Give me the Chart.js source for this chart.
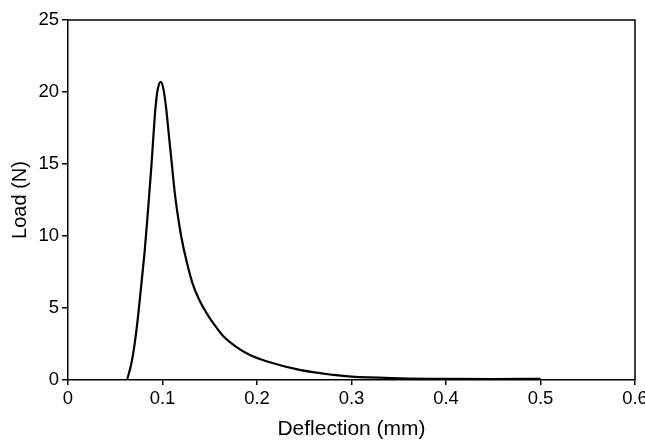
<!DOCTYPE html>
<html>
<head>
<meta charset="utf-8">
<script src="https://cdn.jsdelivr.net/npm/chart.js@4/dist/chart.umd.min.js"></script>
<style>
  html, body { margin: 0; padding: 0; background: #fff; }
  #wrap { width: 645px; height: 443px; position: relative; }
</style>
</head>
<body>
<div id="wrap"><canvas id="Plot"></canvas></div>
<script>
// deflection (mm) and load (N)
var deflection = [0.0625, 0.0671, 0.0706, 0.0741, 0.0777, 0.0812, 0.0847, 0.0883, 0.0918, 0.0935,
  0.0950, 0.0981, 0.1010, 0.1040, 0.1060, 0.1100, 0.1130, 0.1165, 0.1200, 0.1260,
  0.1323, 0.1394, 0.1430, 0.1500, 0.1570, 0.1650, 0.1780, 0.1920, 0.2100, 0.2450,
  0.2810, 0.3000, 0.3510, 0.4000, 0.4500, 0.5000];
var load = [0, 1.16, 2.55, 4.4, 6.7, 9.0, 11.8, 14.9, 18.3, 19.5,
  20.2, 20.7, 20.2, 18.8, 17.5, 14.9, 13.0, 11.3, 9.9, 8.1,
  6.6, 5.5, 5.05, 4.3, 3.65, 3.0, 2.3, 1.75, 1.3, 0.70,
  0.35, 0.23, 0.12, 0.08, 0.07, 0.08];

var xTicks = [0, 0.1, 0.2, 0.3, 0.4, 0.5, 0.6];
var yTicks = [0, 5, 10, 15, 20, 25];

var pts = deflection.map(function (d, i) { return {x: d, y: load[i]}; });

Chart.defaults.font.family = "'Liberation Sans', Arial, sans-serif";
Chart.defaults.color = '#000';

// top and right edges of the frame
var frame = {
  id: 'frame',
  afterDraw: function (chart) {
    var a = chart.chartArea, c = chart.ctx;
    c.save();
    c.strokeStyle = '#000';
    c.lineWidth = 1.5;
    c.beginPath();
    c.moveTo(a.left, a.top);
    c.lineTo(a.right, a.top);
    c.lineTo(a.right, a.bottom);
    c.stroke();
    c.restore();
  }
};

var ctx = document.getElementById('Plot').getContext('2d');
var myChart = new Chart(ctx, {
  type: 'scatter',
  data: {
    datasets: [{
      data: pts,
      showLine: true,
      borderColor: 'black',
      backgroundColor: 'black',
      borderWidth: 2.2,
      pointRadius: 0,
      cubicInterpolationMode: 'monotone'
    }]
  },
  options: {
    responsive: true,
    maintainAspectRatio: false,
    animation: false,
    layout: { padding: { top: 20, right: 10, left: 0, bottom: 0 } },
    plugins: { legend: { display: false }, tooltip: { enabled: false } },
    scales: {
      x: {
        type: 'linear',
        min: 0, max: 0.6,
        afterBuildTicks: function (s) { s.ticks = xTicks.map(function (v) { return {value: v}; }); },
        afterFit: function (s) { s.height = 63; s.paddingRight = 0; s.paddingLeft = 0; },
        ticks: { font: { size: 18.5 }, padding: 3, maxRotation: 0,
          callback: function (v) { return String(v); } },
        grid: { display: true, drawOnChartArea: false, drawTicks: true, tickLength: 5, color: '#000', lineWidth: 1.5 },
        border: { display: true, color: '#000', width: 1.5 },
        title: { display: true, text: 'Deflection (mm)', font: { size: 21 }, padding: { top: 0, bottom: 1 } }
      },
      y: {
        min: 0, max: 25,
        afterBuildTicks: function (s) { s.ticks = yTicks.map(function (v) { return {value: v}; }); },
        afterFit: function (s) { s.width = 68; s.paddingTop = 0; s.paddingBottom = 0; },
        ticks: { font: { size: 18.5 }, padding: 3 },
        grid: { display: true, drawOnChartArea: false, drawTicks: true, tickLength: 6, color: '#000', lineWidth: 1.5 },
        border: { display: true, color: '#000', width: 1.5 },
        title: { display: true, text: 'Load (N)', font: { size: 20 }, padding: { top: 8, bottom: 0 } }
      }
    }
  },
  plugins: [frame]
});
</script>
</body>
</html>
